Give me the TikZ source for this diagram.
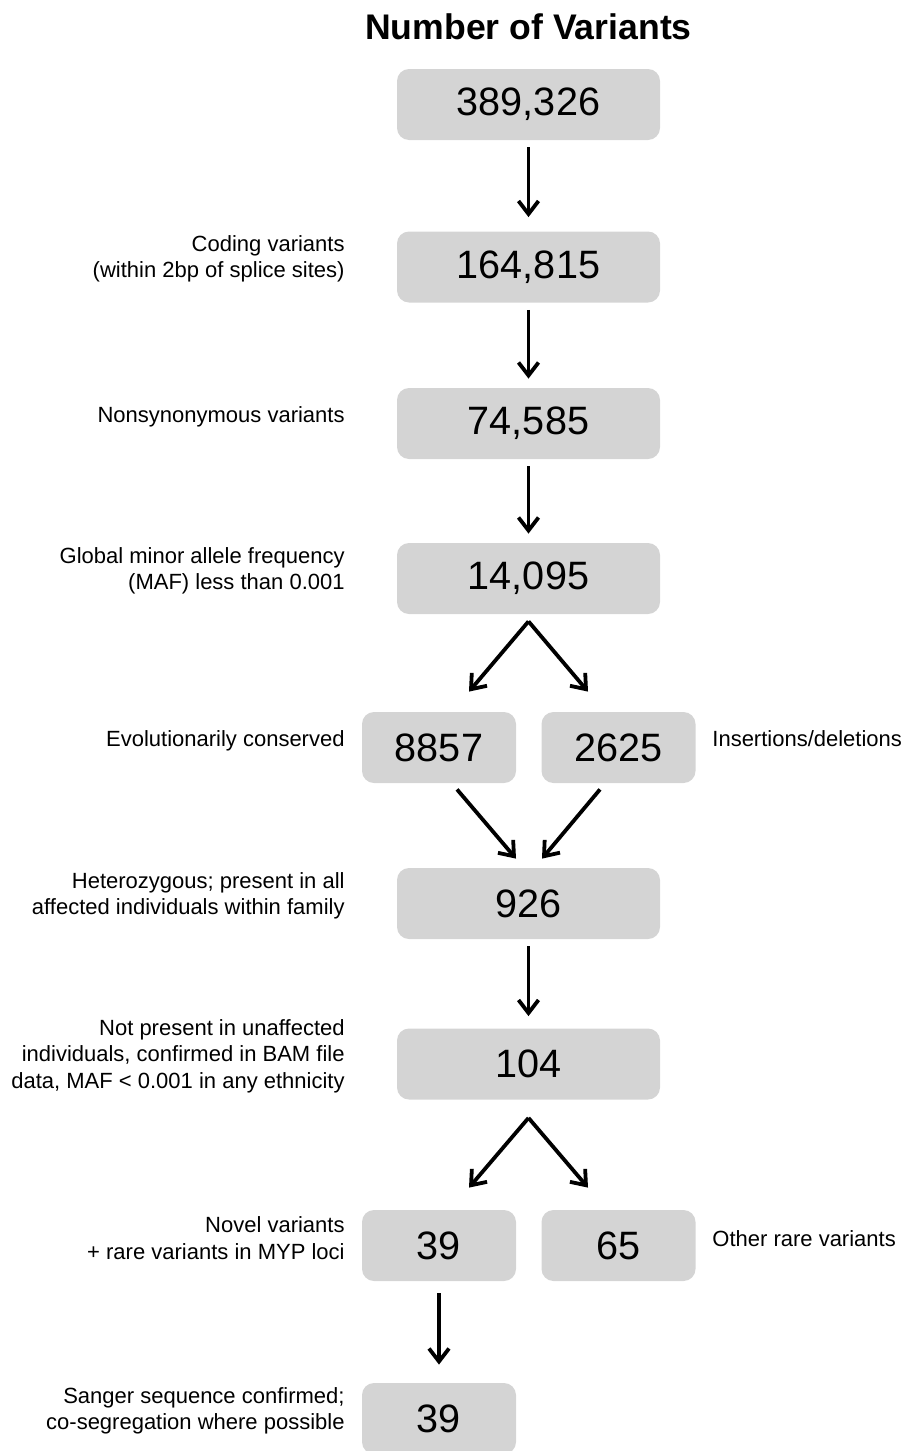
\documentclass[tikz,border=0pt]{standalone}
\usepackage{fontspec}
\setmainfont{Liberation Sans}
\usepackage{tikz}
\usetikzlibrary{arrows.meta,calc}
\definecolor{boxgray}{RGB}{212,212,212}

\tikzset{
  numbox/.style={fill=boxgray, rounded corners=6pt, inner sep=0pt,
    minimum width=131.5pt, minimum height=35.5pt,
    font=\fontsize{19.8}{24}\selectfont},
  halfbox/.style={numbox, minimum width=77pt},
  note/.style={align=right, anchor=east, inner sep=0pt,
    font=\fontsize{11}{13.2}\selectfont},
  sidenote/.style={anchor=west, inner sep=0pt,
    font=\fontsize{11}{13.2}\selectfont},
  flow/.style={-{Straight Barb[length=6.5pt,width=10pt]}, line width=1.9pt}
}

\begin{document}
\begin{tikzpicture}[x=0.5pt, y=-0.5pt]
  \useasboundingbox (0,0) rectangle (903,1451);
  % Titel
  \node[font=\bfseries\fontsize{17.8}{20}\selectfont] (title) at (528.5,27) {Number of Variants};
  % Kaesten
  \node[numbox] (b389) at (528.5,104.5) {389,326};
  \node[numbox] (b164) at (528.5,267) {164,815};
  \node[numbox] (b74) at (528.5,423.5) {74,585};
  \node[numbox] (b14) at (528.5,578.5) {14,095};
  \node[halfbox] (b8857) at (439,747.5) {8857};
  \node[halfbox] (b2625) at (618.5,747.5) {2625};
  \node[numbox] (b926) at (528.5,903.5) {926};
  \node[numbox] (b104) at (528.5,1064) {104};
  \node[halfbox] (b39) at (439,1245.5) {39};
  \node[halfbox] (b65) at (618.5,1245.5) {65};
  \node[halfbox] (b39s) at (439,1418.5) {39};
  % Beschriftungen links
  \node[note] (n164) at (345,259) {Coding variants\\(within 2bp of splice sites)};
  \node[note] (n74) at (345,417) {Nonsynonymous variants};
  \node[note] (n14) at (345,571) {Global minor allele frequency\\(MAF) less than 0.001};
  \node[note] (n8857) at (345,741) {Evolutionarily conserved};
  \node[note] (n926) at (345,896) {Heterozygous; present in all\\affected individuals within family};
  \node[note] (n104) at (345,1056) {Not present in unaffected\\individuals, confirmed in BAM file\\data, MAF < 0.001 in any ethnicity};
  \node[note] (n39) at (345,1238) {Novel variants\\+ rare variants in MYP loci};
  \node[note] (n39s) at (345,1411) {Sanger sequence confirmed;\\co-segregation where possible};
  % Beschriftungen rechts
  \node[sidenote] (n2625) at (712,739) {Insertions/deletions};
  \node[sidenote] (n65) at (712,1239) {Other rare variants};
  % Pfeile
  \draw[flow, shorten <=3.5pt, shorten >=7pt] (b389) -- (b164);
  \draw[flow, shorten <=3.5pt, shorten >=4.5pt] (b164) -- (b74);
  \draw[flow, shorten <=3.5pt, shorten >=4.5pt] (b74) -- (b14);
  \coordinate (split1) at ($(b14.south)+(0,7)$);
  \coordinate (end8857) at ($(b8857.north)+(30,-20)$);
  \coordinate (end2625) at ($(b2625.north)+(-30.5,-20)$);
  \draw[flow] (split1) -- (end8857);
  \draw[flow] (split1) -- (end2625);
  \draw[flow] ($(b8857.south)+(18,6)$) -- ($(b926.north)+(-12.5,-9)$);
  \draw[flow] ($(b2625.south)+(-18.5,6)$) -- ($(b926.north)+(13.5,-9)$);
  \draw[flow, shorten <=3.5pt, shorten >=6pt] (b926) -- (b104);
  \coordinate (split2) at ($(b104.south)+(0,18)$);
  \coordinate (end39) at ($(b39.north)+(30,-22)$);
  \coordinate (end65) at ($(b65.north)+(-30.5,-22)$);
  \draw[flow] (split2) -- (end39);
  \draw[flow] (split2) -- (end65);
  \draw[flow, shorten <=6pt, shorten >=9pt] (b39) -- (b39s);
\end{tikzpicture}
\end{document}
